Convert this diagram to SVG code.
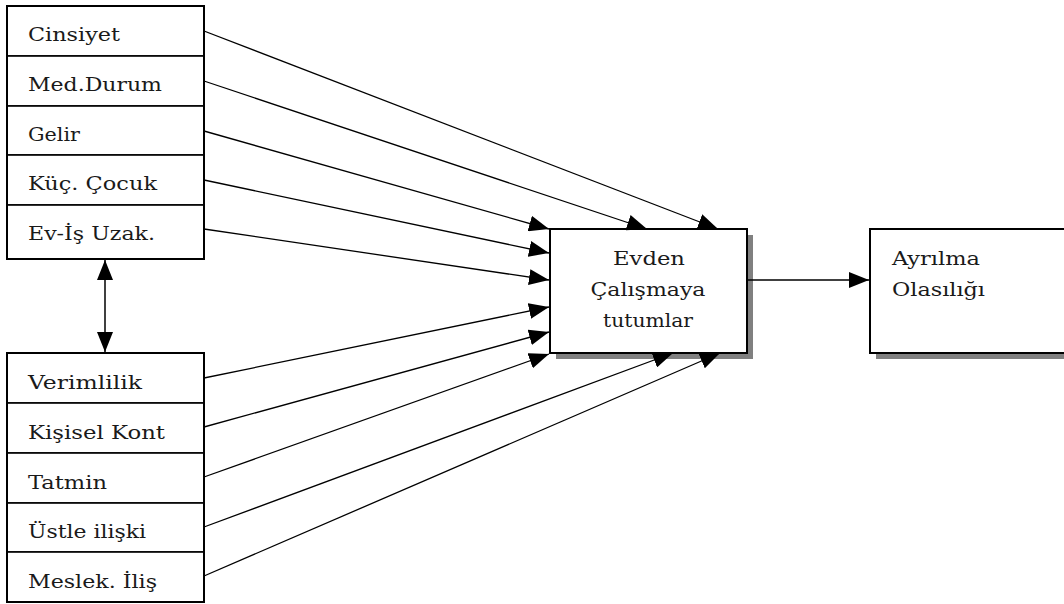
<svg xmlns="http://www.w3.org/2000/svg" width="1064" height="604" viewBox="0 0 1064 604">
<style>
.row{fill:#fff;stroke:#000;stroke-width:1.6}
.frame{fill:none;stroke:#000;stroke-width:2}
.box{fill:#fff;stroke:#000;stroke-width:2}
.shadow{fill:#808080}
.lbl{font-family:'DejaVu Serif','Liberation Serif',serif;font-size:19px;font-weight:normal;fill:#1a1a1a}
.mid{text-anchor:middle}
.con{stroke:#000;stroke-width:1.3;fill:none;marker-end:url(#ah)}
</style>
<defs>
<marker id="ah" viewBox="0 0 20 16" refX="20" refY="8" markerWidth="20" markerHeight="16" orient="auto" markerUnits="userSpaceOnUse"><path d="M0,0 L20,8 L0,16 z" fill="#000"/></marker>
<marker id="ah2" viewBox="0 0 20 16" refX="20" refY="8" markerWidth="20" markerHeight="16" orient="auto-start-reverse" markerUnits="userSpaceOnUse"><path d="M0,0 L20,8 L0,16 z" fill="#000"/></marker>
</defs>
<rect width="1064" height="604" fill="#fff"/>

<g id="cinsiyet"><rect class="row" x="7" y="6" width="197" height="50"/><text class="lbl" x="28" y="41" textLength="92" lengthAdjust="spacingAndGlyphs">Cinsiyet</text></g>
<g id="med-durum"><rect class="row" x="7" y="56" width="197" height="50"/><text class="lbl" x="28" y="91" textLength="134" lengthAdjust="spacingAndGlyphs">Med.Durum</text></g>
<g id="gelir"><rect class="row" x="7" y="106" width="197" height="49"/><text class="lbl" x="28" y="141" textLength="52" lengthAdjust="spacingAndGlyphs">Gelir</text></g>
<g id="kuc-cocuk"><rect class="row" x="7" y="155" width="197" height="50"/><text class="lbl" x="28" y="190" textLength="129" lengthAdjust="spacingAndGlyphs">Küç. Çocuk</text></g>
<g id="ev-is-uzak"><rect class="row" x="7" y="205" width="197" height="54"/><text class="lbl" x="28" y="240" textLength="127" lengthAdjust="spacingAndGlyphs">Ev-İş Uzak.</text></g>
<rect class="frame" x="7" y="6" width="197" height="253"/>

<g id="verimlilik"><rect class="row" x="7" y="353" width="197" height="50"/><text class="lbl" x="28" y="389" textLength="114" lengthAdjust="spacingAndGlyphs">Verimlilik</text></g>
<g id="kisisel-kont"><rect class="row" x="7" y="403" width="197" height="50"/><text class="lbl" x="28" y="439" textLength="137" lengthAdjust="spacingAndGlyphs">Kişisel Kont</text></g>
<g id="tatmin"><rect class="row" x="7" y="453" width="197" height="50"/><text class="lbl" x="28" y="489" textLength="79" lengthAdjust="spacingAndGlyphs">Tatmin</text></g>
<g id="ustle-iliski"><rect class="row" x="7" y="503" width="197" height="49"/><text class="lbl" x="28" y="538" textLength="118" lengthAdjust="spacingAndGlyphs">Üstle ilişki</text></g>
<g id="meslek-ilis"><rect class="row" x="7" y="552" width="197" height="50"/><text class="lbl" x="28" y="588" textLength="129" lengthAdjust="spacingAndGlyphs">Meslek. İliş</text></g>
<rect class="frame" x="7" y="353" width="197" height="249"/>

<g id="evden-calismaya">
<rect class="shadow" x="556" y="235" width="197" height="124"/>
<rect class="box" x="550" y="229" width="197" height="124"/>
<text class="lbl mid" x="649" y="265" textLength="72" lengthAdjust="spacingAndGlyphs">Evden</text>
<text class="lbl mid" x="648" y="296" textLength="115" lengthAdjust="spacingAndGlyphs">Çalışmaya</text>
<text class="lbl mid" x="648" y="327" textLength="90" lengthAdjust="spacingAndGlyphs">tutumlar</text>
</g>

<g id="ayrilma-olasiligi">
<rect class="shadow" x="876" y="235" width="200" height="124"/>
<rect class="box" x="870" y="229" width="200" height="124"/>
<text class="lbl" x="892" y="265" textLength="88" lengthAdjust="spacingAndGlyphs">Ayrılma</text>
<text class="lbl" x="892" y="296" textLength="93" lengthAdjust="spacingAndGlyphs">Olasılığı</text>
</g>

<g id="connectors">
<line class="con" x1="204" y1="31" x2="718" y2="229"/>
<line class="con" x1="204" y1="81" x2="647" y2="229"/>
<line class="con" x1="204" y1="131" x2="549" y2="229"/>
<line class="con" x1="204" y1="180" x2="549" y2="253"/>
<line class="con" x1="204" y1="229" x2="549" y2="280"/>
<line class="con" x1="204" y1="378" x2="549" y2="307"/>
<line class="con" x1="204" y1="427" x2="549" y2="332"/>
<line class="con" x1="204" y1="477" x2="549" y2="354"/>
<line class="con" x1="204" y1="527" x2="673" y2="353"/>
<line class="con" x1="204" y1="576" x2="720" y2="353"/>
<line class="con" x1="747" y1="280" x2="869" y2="280"/>
<line x1="105" y1="260" x2="105" y2="352" stroke="#000" stroke-width="1.5" marker-start="url(#ah2)" marker-end="url(#ah2)"/>
</g>
</svg>
